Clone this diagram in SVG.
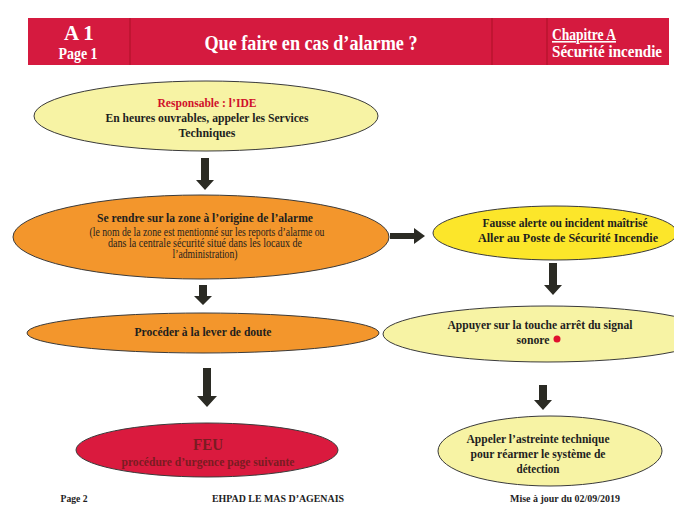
<svg xmlns="http://www.w3.org/2000/svg" width="674" height="518" viewBox="0 0 674 518">
  <style>
    text { font-family: "Liberation Serif", "Times New Roman", serif; font-weight: bold; text-anchor: middle; fill: #1e1e1e; }
    .hdr { fill: #ffffff; }
    .small { font-weight: normal; font-size: 11.5px; }
    .node { stroke: #3a3a3a; stroke-width: 1; }
    .pale { fill: #f7f3a4; }
    .orange { fill: #f3962c; }
    .yellow { fill: #fce62a; }
    .red { fill: #da1a3e; }
    .arrow { fill: #2b2b24; }
    .div { stroke: #b8142f; stroke-width: 1.5; }
  </style>

  <rect width="674" height="518" fill="#ffffff"/>

  <!-- header banner -->
  <g id="header">
    <rect x="28" y="18" width="641" height="47" fill="#d51a3f"/>
    <line class="div" x1="130" y1="18" x2="130" y2="65"/>
    <line class="div" x1="492" y1="18" x2="492" y2="65"/>
    <line class="div" x1="547" y1="18" x2="547" y2="65"/>
    <text class="hdr" x="79" y="40" font-size="21">A 1</text>
    <text class="hdr" x="78" y="59" font-size="16" textLength="39" lengthAdjust="spacingAndGlyphs">Page 1</text>
    <text class="hdr" x="311" y="50" font-size="20" textLength="213" lengthAdjust="spacingAndGlyphs">Que faire en cas d’alarme ?</text>
    <text class="hdr" x="584" y="40" font-size="16" text-decoration="underline" textLength="64" lengthAdjust="spacingAndGlyphs">Chapitre A</text>
    <text class="hdr" x="607" y="57" font-size="16" textLength="110" lengthAdjust="spacingAndGlyphs">Sécurité incendie</text>
  </g>

  <!-- connectors -->
  <g id="connectors">
    <polygon class="arrow" points="201,158 209,158 209,180 214,180 205,190 196,180 201,180"/>
    <polygon class="arrow" points="390,233 414,233 414,228 425,236 414,244 414,239 390,239"/>
    <polygon class="arrow" points="199,285 207,285 207,296 212,296 203,305 194,296 199,296"/>
    <polygon class="arrow" points="549,263 557,263 557,285 562,285 553,295 544,285 549,285"/>
    <polygon class="arrow" points="203,368 211,368 211,396 217,396 207,407 197,396 203,396"/>
    <polygon class="arrow" points="539,385 547,385 547,400 552,400 543,410 534,400 539,400"/>
  </g>

  <g id="responsable">
    <ellipse class="node pale" cx="206" cy="116" rx="172" ry="35"/>
    <text x="207" y="107" font-size="13" style="fill:#d0102a" textLength="99" lengthAdjust="spacingAndGlyphs">Responsable : l’IDE</text>
    <text x="207" y="122" font-size="13" textLength="203" lengthAdjust="spacingAndGlyphs">En heures ouvrables, appeler les Services</text>
    <text x="207" y="137" font-size="13" textLength="57" lengthAdjust="spacingAndGlyphs">Techniques</text>
  </g>

  <g id="zone">
    <ellipse class="node orange" cx="201" cy="237" rx="188" ry="42"/>
    <text x="205" y="222" font-size="13.5" textLength="216" lengthAdjust="spacingAndGlyphs">Se rendre sur la zone à l’origine de l’alarme</text>
    <text class="small" x="207" y="235.5" textLength="235" lengthAdjust="spacingAndGlyphs">(le nom de la zone est mentionné sur les reports d’alarme ou</text>
    <text class="small" x="205" y="247" textLength="194" lengthAdjust="spacingAndGlyphs">dans la centrale sécurité situé dans les locaux de</text>
    <text class="small" x="205" y="258" textLength="65" lengthAdjust="spacingAndGlyphs">l’administration)</text>
  </g>

  <g id="fausse-alerte">
    <ellipse class="node yellow" cx="555" cy="233" rx="122" ry="27"/>
    <text x="565" y="227" font-size="13" textLength="165" lengthAdjust="spacingAndGlyphs">Fausse alerte ou incident maîtrisé</text>
    <text x="568" y="242" font-size="13" textLength="180" lengthAdjust="spacingAndGlyphs">Aller au Poste de Sécurité Incendie</text>
  </g>

  <g id="lever-doute">
    <ellipse class="node orange" cx="203" cy="333" rx="176" ry="20"/>
    <text x="203" y="335.5" font-size="13" textLength="137" lengthAdjust="spacingAndGlyphs">Procéder à la lever de doute</text>
  </g>

  <g id="arret-signal">
    <ellipse class="node pale" cx="547" cy="334" rx="164" ry="28"/>
    <text x="540" y="329" font-size="13" textLength="185" lengthAdjust="spacingAndGlyphs">Appuyer sur la touche arrêt du signal</text>
    <text x="533" y="343.5" font-size="13" textLength="33" lengthAdjust="spacingAndGlyphs">sonore</text>
    <circle cx="557" cy="339" r="3.5" fill="#e0102e"/>
  </g>

  <g id="feu">
    <ellipse class="node red" cx="207" cy="450" rx="131" ry="27"/>
    <text x="208" y="450" font-size="17" style="fill:#7a1c22" textLength="30" lengthAdjust="spacingAndGlyphs">FEU</text>
    <text x="208" y="466" font-size="13" style="fill:#7a1c22" textLength="173" lengthAdjust="spacingAndGlyphs">procédure d’urgence page suivante</text>
  </g>

  <g id="astreinte">
    <ellipse class="node pale" cx="550" cy="451" rx="112" ry="35"/>
    <text x="538" y="442.5" font-size="13" textLength="143" lengthAdjust="spacingAndGlyphs">Appeler l’astreinte technique</text>
    <text x="538" y="457.5" font-size="13" textLength="135" lengthAdjust="spacingAndGlyphs">pour réarmer le système de</text>
    <text x="538" y="472.5" font-size="13" textLength="43" lengthAdjust="spacingAndGlyphs">détection</text>
  </g>

  <!-- page footer -->
  <g id="footer">
    <text x="74" y="502" font-size="11" textLength="27" lengthAdjust="spacingAndGlyphs">Page 2</text>
    <text x="278" y="502" font-size="11" textLength="132" lengthAdjust="spacingAndGlyphs">EHPAD LE MAS D’AGENAIS</text>
    <text x="565" y="502" font-size="11" textLength="110" lengthAdjust="spacingAndGlyphs">Mise à jour du 02/09/2019</text>
  </g>
</svg>
